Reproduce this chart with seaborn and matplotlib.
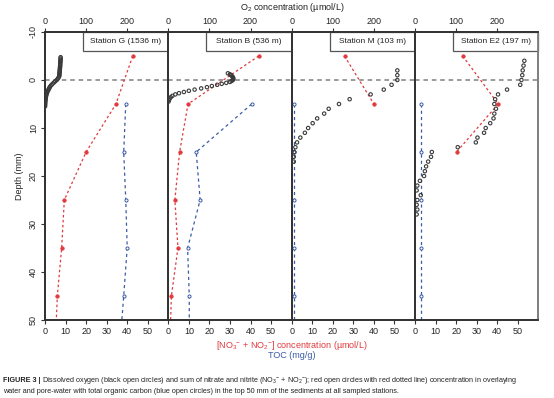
import matplotlib
matplotlib.use("Agg")
import matplotlib.pyplot as plt
import seaborn as sns
import pandas as pd
from matplotlib.patches import Rectangle

# ---------------- data ----------------
stations = ["Station G (1536 m)", "Station B (536 m)", "Station M (103 m)", "Station E2 (197 m)"]

# nitrate + nitrite (umol/L), bottom axis
no_depth_G = [-5, 5, 15, 25, 35, 45, 55]
no_G = [42.7, 34.5, 20.0, 9.4, 8.1, 6.0, 5.0]
no_depth_B = [-5, 5, 15, 25, 35, 45, 55]
no_B = [44.0, 9.6, 5.5, 3.2, 4.7, 1.5, 0.8]
no_depth_M = [-5, 5]
no_M = [25.7, 40.0]
no_depth_E2 = [-5, 5, 15]
no_E2 = [23.2, 40.5, 20.2]

# TOC (mg/g), bottom axis
toc_depth = [5, 15, 25, 35, 45, 55]
toc_G = [39.3, 38.3, 39.3, 40.0, 38.3, 36.5]
toc_B = [40.6, 13.6, 15.5, 9.4, 10.2, 10.2]
toc_M = [1.2, 1.2, 1.2, 1.2, 1.2, 1.2]
toc_E2 = [2.7, 2.7, 2.7, 2.7, 2.7, 2.7]

# O2 (umol/L), top axis
o2_depth_G = [-4.75, -4.5, -4.25, -4.0, -3.75, -3.5, -3.25, -3.0, -2.75, -2.5, -2.25, -2.0,
              -1.75, -1.5, -1.25, -1.0, -0.75, -0.5, -0.25, 0.0, 0.25, 0.5, 0.75, 1.0,
              1.25, 1.5, 1.75, 2.0, 2.25, 2.5, 2.75, 3.0, 3.25, 3.5, 3.75, 4.0, 4.25, 4.5,
              4.75, 5.0, 5.25, 5.5]
o2_G = [38, 38, 38, 37.5, 37.5, 37, 37, 37, 36.5, 36.5, 36, 36,
        35.5, 35.5, 35, 35, 34.5, 33, 31, 28.5, 25, 22, 19, 16,
        13.5, 11.5, 10, 8.5, 7, 5.5, 4.5, 3.5, 2.8, 2.2, 1.8, 1.4, 1.0, 0.7,
        0.5, 0.3, 0.2, 0.1]
o2_depth_B = [-1.4, -1.2, -1.0, -0.8, -0.6, -0.4, -0.2, 0.0, 0.2, 0.4, 0.6, 0.8, 1.0,
              1.25, 1.5, 1.75, 2.0, 2.25, 2.5, 2.75, 3.0, 3.3, 3.6, 3.9, 4.2, 4.5]
o2_B = [145, 150, 153, 155, 157, 158, 158, 157, 154, 150, 141, 130, 119,
        106, 94, 80, 64, 50, 38, 26, 17, 10, 6, 3, 1.5, 0.5]
o2_depth_M = [-2, -1, 0, 1, 2, 3, 4, 5, 6, 7, 8, 9, 10, 11, 12, 13, 14, 15, 16, 17]
o2_M = [257, 257, 257, 243, 224, 192, 141, 115, 90, 79, 62, 51, 40, 32, 21, 13, 9, 6.5, 5, 5]
o2_depth_E2 = [-4, -3, -2, -1, 0, 1, 2, 3, 4, 5, 6, 7, 8, 9, 10, 11, 12, 13, 14, 15,
               16, 17, 18, 19, 20, 21, 22, 23, 24, 25, 26, 27, 28]
o2_E2 = [266, 264, 262, 261, 259, 256, 224, 202, 195, 193, 197, 193, 191, 183, 172, 168,
         152, 148, 104, 41, 39, 32, 27, 24, 22, 12, 5.6, 4, 14, 5.6, 4, 5.6, 4]

no_sets = [(no_depth_G, no_G), (no_depth_B, no_B), (no_depth_M, no_M), (no_depth_E2, no_E2)]
toc_sets = [toc_G, toc_B, toc_M, toc_E2]
o2_sets = [(o2_depth_G, o2_G), (o2_depth_B, o2_B), (o2_depth_M, o2_M), (o2_depth_E2, o2_E2)]

bottom_ticks = [0, 10, 20, 30, 40, 50]
top_ticks = [0, 100, 200]
depth_ticks = [-10, 0, 10, 20, 30, 40, 50]

# ---------------- style ----------------
sns.set_style("ticks")
plt.rcParams["font.family"] = ["Liberation Sans", "DejaVu Sans"]
plt.rcParams["mathtext.fontset"] = "custom"
plt.rcParams["mathtext.rm"] = "Liberation Sans"
plt.rcParams["mathtext.it"] = "Liberation Sans:italic"
plt.rcParams["mathtext.bf"] = "Liberation Sans:bold"

RED = "#e03a3e"
BLUE = "#3b5ba5"
BLK = "#3a3a3a"
SPINE = "#333333"

fig = plt.figure(figsize=(5.54, 3.98), dpi=100)
W, H = 554.0, 398.0
x0s = [45, 168.3, 291.7, 415]
pw = 123.3
top_px, bot_px = 32, 320

for i in range(4):
    ax = fig.add_axes([x0s[i] / W, 1 - bot_px / H, pw / W, (bot_px - top_px) / H])
    ax2 = ax.twiny()

    d_no, v_no = no_sets[i]
    df_no = pd.DataFrame({"x": v_no, "depth": d_no})
    df_toc = pd.DataFrame({"x": toc_sets[i], "depth": toc_depth})
    d_o2, v_o2 = o2_sets[i]
    df_o2 = pd.DataFrame({"x": v_o2, "depth": d_o2})

    ax.axhline(0, color="#808080", lw=1.1, ls=(0, (3, 2.5)), zorder=1)

    sns.lineplot(data=df_toc, x="x", y="depth", sort=False, estimator=None, orient="y",
                 ax=ax, color=BLUE, lw=0.9, ls=(0, (2.5, 2.5)), zorder=2)
    sns.scatterplot(data=df_toc, x="x", y="depth", ax=ax, marker="o", s=5,
                    facecolor="white", edgecolor=BLUE, linewidth=0.7, zorder=3)
    sns.lineplot(data=df_no, x="x", y="depth", sort=False, estimator=None, orient="y",
                 ax=ax, color=RED, lw=0.9, ls=(0, (2, 2)), zorder=2)
    sns.scatterplot(data=df_no, x="x", y="depth", ax=ax, marker="o", s=6,
                    facecolor=RED, edgecolor=RED, linewidth=0.6, zorder=3)
    sns.scatterplot(data=df_o2, x="x", y="depth", ax=ax2, marker="o", s=6,
                    facecolor="none", edgecolor=BLK, linewidth=0.8, zorder=4)

    ax.set_xlim(0, 60)
    ax2.set_xlim(0, 300)
    ax.set_ylim(50, -10)
    ax.set_xlabel("")
    ax.set_ylabel("")
    ax2.set_xlabel("")
    ax2.set_ylabel("")

    ax.set_xticks(bottom_ticks)
    ax.set_xticklabels([str(t) for t in bottom_ticks])
    ax2.set_xticks(top_ticks)
    ax2.set_xticklabels([str(t) for t in top_ticks])
    ax.tick_params(axis="x", direction="out", length=3, width=0.8, color=SPINE,
                   labelsize=6.5, pad=2, top=False)
    ax2.tick_params(axis="x", direction="out", length=3, width=0.8, color=SPINE,
                    labelsize=6.5, pad=1.5, bottom=False, labelbottom=False)
    ax2.tick_params(axis="y", left=False, labelleft=False, right=False, labelright=False)

    if i == 0:
        ax.set_yticks(depth_ticks)
        ax.set_yticklabels([str(t) for t in depth_ticks])
        ax.tick_params(axis="y", direction="out", length=3, width=0.8, color=SPINE,
                       labelsize=6.5, pad=2)
        for lab in ax.get_yticklabels():
            lab.set_rotation(90)
            lab.set_va("center")
        ax.set_ylabel("Depth (mm)", fontsize=6.5, labelpad=4)
    else:
        ax.tick_params(axis="y", left=False, labelleft=False)

    for a in (ax, ax2):
        for s in ("left", "top", "bottom"):
            a.spines[s].set_color(SPINE)
            a.spines[s].set_linewidth(1.3)
        a.spines["right"].set_visible(i == 3)
        a.spines["right"].set_color("#808080")
        a.spines["right"].set_linewidth(1.3)

    # station label box
    ax.add_patch(Rectangle((0.307, 0.935), 0.693, 0.065, transform=ax.transAxes,
                           facecolor="white", edgecolor="#555555", lw=0.9, zorder=5,
                           clip_on=False))
    ax.text(0.655, 0.968, stations[i], transform=ax.transAxes, ha="center", va="center",
            fontsize=6, color="#222222", zorder=6)

fig.text(292 / W, 1 - 8 / H, "O$_2$ concentration (µmol/L)", ha="center", va="center",
         fontsize=6.5, color="#222222")
fig.text(292 / W, 1 - 346 / H, "[NO$_3$$^{-}$ + NO$_2$$^{-}$] concentration (µmol/L)",
         ha="center", va="center", fontsize=6.5, color=RED)
fig.text(292 / W, 1 - 355.5 / H, "TOC (mg/g)", ha="center", va="center",
         fontsize=6.5, color=BLUE)

# caption
t1 = fig.text(3 / W, 1 - 381 / H, "FIGURE 3 |", ha="left", va="center",
              fontsize=5.2, fontweight="bold", color="#222222")
fig.canvas.draw()
bb = t1.get_window_extent(renderer=fig.canvas.get_renderer())
fig.text((bb.x1 + 2) / W, 1 - 381 / H,
         "Dissolved oxygen (black open circles) and sum of nitrate and nitrite (NO$_3$$^{-}$ + NO$_2$$^{-}$); "
         "red open circles with red dotted line) concentration in overlaying",
         ha="left", va="center", fontsize=5.2, color="#222222")
fig.text(3 / W, 1 - 391.5 / H,
         "water and pore-water with total organic carbon (blue open circles) in the top 50 mm of the "
         "sediments at all sampled stations.",
         ha="left", va="center", fontsize=5.2, color="#222222")

fig.savefig("out.png", dpi=100)
